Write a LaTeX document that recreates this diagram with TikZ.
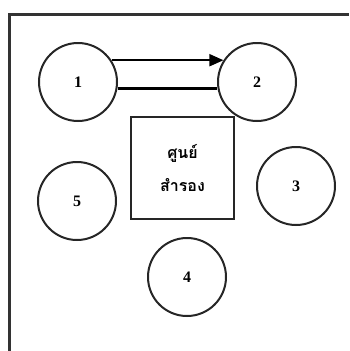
\documentclass[tikz,border=0pt]{standalone}
\usepackage{fontspec}
\setmainfont{Liberation Serif}
\newfontfamily\thaifont[Script=Thai]{Loma}
\usetikzlibrary{arrows.meta}

\begin{document}
\begin{tikzpicture}[x=1pt,y=-1pt,
    site/.style={
      % The shape:
      circle,minimum size=78pt,inner sep=0pt,
      % The rest
      line width=2pt,draw=black!85,
      font=\fontsize{16}{18}\selectfont\bfseries},
    centre/.style={
      rectangle,minimum width=103pt,minimum height=102pt,
      line width=2.4pt,draw=black!85,align=center,
      font=\thaifont\fontsize{16}{33}\selectfont\bfseries}]
    \useasboundingbox (0,0) rectangle (349,351);
    % frame
    \draw[line width=3pt,black!80] (9.5,351) -- (9.5,14.5) -- (349,14.5);
    \node [site] (s1) at (78,82) {1};
    \node [site] (s2) at (257,82) {2};
    \node [site] (s3) at (296,186) {3};
    \node [site] (s4) at (187,277) {4};
    \node [site] (s5) at (77,201) {5};
    \node [centre] (hub) at (182.5,168) {ศูนย์\\สำรอง};
    \draw [line width=1.8pt,-{Triangle[length=14pt,width=12pt]}] (s1.33) -- (s2.147);
    \draw [line width=3pt] (s1.-9) -- (s2.189);
  \end{tikzpicture}
\end{document}
